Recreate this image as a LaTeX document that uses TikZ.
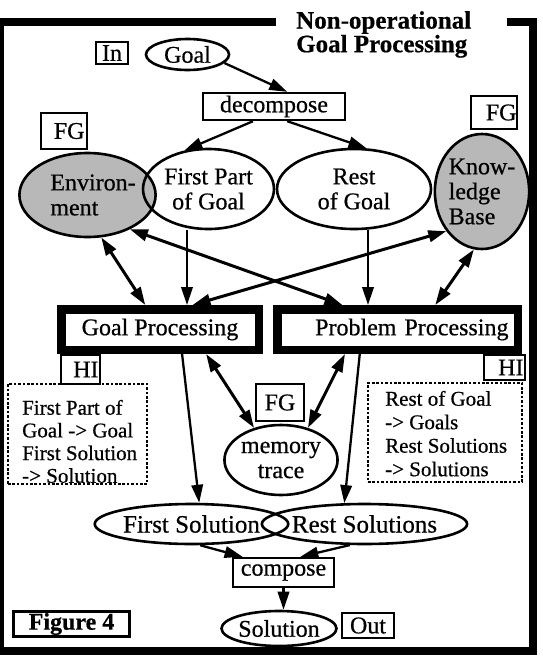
\documentclass[tikz,border=0pt]{standalone}
\usepackage{fontspec}
\setmainfont{Liberation Serif}[FakeBold=0.6]
\newfontfamily\titlefont{Liberation Serif Bold}[FakeBold=0.5]
\usetikzlibrary{shapes.geometric,arrows.meta}

\begin{document}
\begin{tikzpicture}[x=1pt,y=-1pt,
  every node/.style={font=\fontsize{24}{25}\selectfont, inner sep=0pt},
  tag/.style={draw, line width=2.4pt, rectangle},
  oval/.style={draw, line width=2.6pt, ellipse},
  store/.style={oval, fill=black!28},
  stage/.style={draw, line width=8.5pt, rectangle},
  note/.style={draw, line width=2.2pt, dash pattern=on 2.6pt off 1.8pt, rectangle},
  notetext/.style={align=left, anchor=north west, font=\fontsize{21}{22.7}\selectfont},
  tip/.tip={Triangle[length=18pt,width=11.5pt]},
  flow/.style={line width=2.3pt, -tip},
  link/.style={line width=3pt, tip-tip},
]
\useasboundingbox (0,0) rectangle (542,659);

% outer frame, open at the top for the title
\draw[line width=8pt] (0,22) -- (276,22);
\draw[line width=8pt] (507,22) -- (533,22) -- (533,651) -- (0,651);
\draw[line width=3.5pt] (1.75,18) -- (1.75,655);

\node[anchor=north west, align=left, font=\titlefont\fontsize{25}{22}\selectfont] (title) at (296,11) {Non-operational\\Goal Processing};

% input and decomposition
\node[tag, minimum width=32, minimum height=22] (in) at (112,53) {In};
\node[oval, minimum width=83, minimum height=31] (goal) at (187.5,54.5) {Goal};
\node[tag, minimum width=142, minimum height=27] (dec) at (274,106.5) {decompose};

\node[tag, minimum width=46, minimum height=36, text width=41pt, align=right] (fgl) at (64,131) {FG};
\node[tag, minimum width=46, minimum height=33, text width=45pt, align=right] (fgr) at (494,112.5) {FG};

\node[store, minimum width=103, minimum height=84, align=left] (env) at (87.5,195) {\hspace*{11pt}Environ-\\\hspace*{11pt}ment};
\node[oval, minimum width=131, minimum height=80, align=center] (fp) at (208.5,189) {First Part\\of Goal};
\node[oval, minimum width=154, minimum height=80, align=center] (rg) at (354,189) {Rest\\of Goal};
\node[store, minimum width=91, minimum height=115, align=left] (kb) at (482,191.5) {Know-\\ledge\\Base};

% processing stages
\node[stage, minimum width=197.5, minimum height=40.5] (gp) at (160,329.5) {Goal Processing};
\node[stage, minimum width=240.5, minimum height=40.5, text width=222pt, align=right] (pp) at (397.5,329.5) {Problem Processing};

\node[tag, minimum width=39, minimum height=29, text width=36pt, align=right] (hil) at (80.5,369.5) {HI};
\node[tag, minimum width=41, minimum height=25, text width=38pt, align=right] (hir) at (504.5,367.5) {HI};

\node[note, minimum width=139, minimum height=100] (nl) at (77.5,434) {};
\node[notetext] (nlt) at (22,399.7) {First Part of\\Goal -> Goal\\First Solution\\-> Solution};
\node[note, minimum width=154, minimum height=99] (nr) at (445,432.5) {};
\node[notetext, font=\fontsize{21}{23.5}\selectfont] (nrt) at (385,390.7) {Rest of Goal\\-> Goals\\Rest Solutions\\-> Solutions};

\node[tag, minimum width=48, minimum height=37] (fgm) at (280,402.5) {FG};
\node[oval, minimum width=110, minimum height=70, align=center] (mem) at (281,460) {memory\\trace};

% results and composition
\node[oval, minimum width=155, minimum height=40, font=\fontsize{25}{26}\selectfont] (fs) at (191.5,524) {First Solution};
\node[oval, minimum width=181, minimum height=40, font=\fontsize{25}{26}\selectfont] (rs) at (364.5,524) {Rest Solutions};
\node[tag, minimum width=101, minimum height=29] (comp) at (283.5,572.5) {compose};
\node[oval, minimum width=106, minimum height=35] (sol) at (279,628.5) {Solution};
\node[tag, minimum width=52, minimum height=25] (out) at (368,625.5) {Out};
\node[tag, line width=2.8pt, minimum width=116, minimum height=25, font=\titlefont\fontsize{24}{25}\selectfont] (fig) at (71.5,624) {Figure 4};

% connectors
\coordinate (fpout) at ([xshift=-21.5pt]fp.south);
\coordinate (rgout) at ([xshift=14pt]rg.south);

\draw[flow] (goal.-13) -- (dec.48);
\draw[flow] (dec.215) -- (fp.122);
\draw[flow] (dec.-48) -- (rg.73);
\draw[link] (env.-72) -- (gp.121);
\draw[link] (env.-39) -- (pp.156);
\draw[link] (kb.228) -- (gp.37);
\draw[link] (kb.262) -- (pp.33);
\draw[flow] (fpout) -- (fpout |- gp.north);
\draw[flow] (rgout) -- (rgout |- pp.north);
\draw[flow] (gp.-48) -- (fs.70);
\draw[flow] (pp.213) -- (rs.134);
\draw[link] (gp.-28) -- (mem.130);
\draw[link] (pp.205) -- (mem.50);
\draw[flow] (fs.-68) -- (comp.159);
\draw[flow] (rs.235) -- (comp.43);
\draw[flow] (comp.south) -- (comp.south |- sol.north);
\end{tikzpicture}
\end{document}
